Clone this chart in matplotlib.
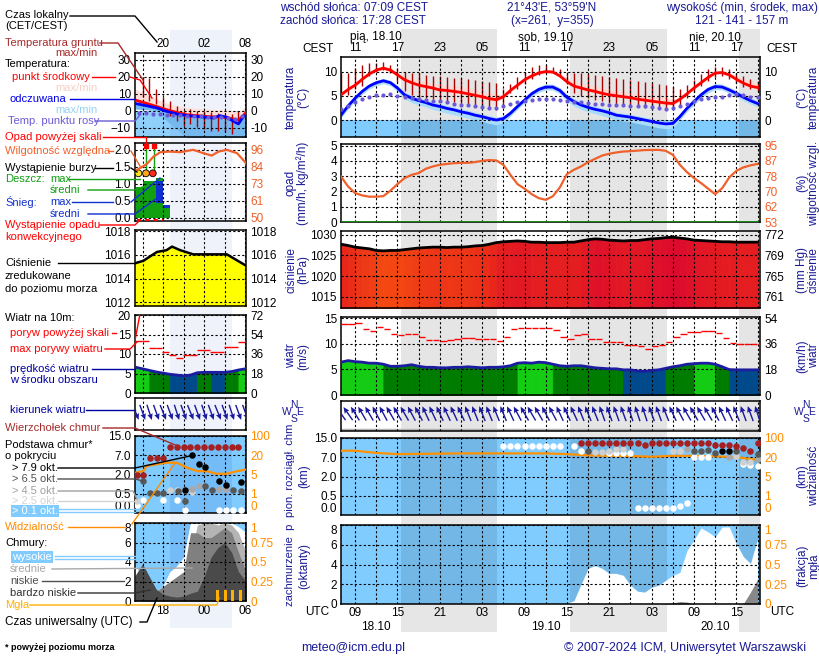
import numpy as np
import matplotlib
matplotlib.use('Agg')
import matplotlib.pyplot as plt
from matplotlib.colors import LinearSegmentedColormap, Normalize

plt.rcParams['font.family'] = ['Liberation Sans', 'DejaVu Sans']
plt.rcParams['font.size'] = 8.5

# ---------------- main meteogram, hours counted from 18.10 00 UTC ----------------
hours = np.arange(7, 67)
night_spans = [(15.47, 29.15), (39.45, 53.17), (63.43, 66.4)]
utc_major = np.arange(9, 66, 6)
utc_minor = np.arange(12, 67, 6)
date_hours = [12, 36, 60]
date_top = ['pią, 18.10', 'sob, 19.10', 'nie, 20.10']
date_bottom = ['18.10', '19.10', '20.10']

temp = [5.2, 6.3, 7.2, 8.4, 9.5, 10.3, 10.7, 10.3, 9.3, 8.3,
        7.7, 7.2, 6.9, 6.6, 6.2, 6.1, 5.9, 5.7, 5.4, 5.1,
        4.8, 4.4, 4.2, 4.8, 6.1, 7.2, 8.3, 9.1, 9.7, 10.0,
        9.9, 9.1, 7.9, 7.0, 6.6, 6.2, 5.9, 5.5, 5.2, 5.0,
        4.8, 4.6, 4.3, 4.1, 3.9, 3.7, 3.5, 3.4, 4.3, 5.4,
        6.6, 7.7, 8.8, 9.7, 9.8, 9.3, 8.4, 7.6, 7.0, 6.7]
temp_max = [5.5, 6.6, 7.5, 8.7, 9.8, 10.6, 11.0, 10.7, 9.8,
            9.0, 8.6, 8.2, 8.0, 7.7, 7.4, 7.2, 7.0, 6.9, 6.6, 6.3, 6.0, 5.6, 5.3,
            5.2, 6.4, 7.5, 8.6, 9.4, 10.0, 10.3, 10.3, 9.6,
            8.7, 8.0, 7.6, 7.3, 7.0, 6.6, 6.3, 6.1, 5.9, 5.6, 5.3, 5.1, 4.9, 4.7, 4.5, 4.3,
            4.7, 5.7, 6.9, 8.0, 9.1, 10.0, 10.1, 9.8, 9.1, 8.5, 8.0, 7.7]
temp_min = [4.9, 6.0, 6.9, 8.1, 9.2, 10.0, 10.4, 10.0, 9.0,
            8.0, 7.4, 6.9, 6.6, 6.3, 5.9, 5.8, 5.6, 5.4, 5.1, 4.8, 4.5, 4.0, 3.8,
            4.4, 5.8, 6.9, 8.0, 8.8, 9.4, 9.7, 9.6, 8.8,
            7.6, 6.7, 6.3, 5.9, 5.6, 5.2, 4.9, 4.7, 4.5, 4.3, 4.0, 3.8, 3.6, 3.4, 3.1, 3.0,
            3.9, 5.1, 6.3, 7.4, 8.5, 9.4, 9.5, 9.0, 8.1, 7.3, 6.7, 6.4]
feel = [1.0, 2.9, 4.5, 5.9, 7.0, 7.7, 8.1, 7.7, 6.6,
        5.2, 4.5, 4.0, 3.6, 3.1, 2.8, 2.4, 2.1, 1.7, 1.4, 1.0, 0.7, 0.3, 0.0,
        0.3, 1.4, 2.8, 4.1, 5.4, 6.3, 6.8, 6.8, 6.1,
        4.7, 3.8, 3.1, 2.6, 2.2, 1.9, 1.5, 1.0, 0.8, 0.6, 0.3, 0.0, -0.3, -0.6, -0.8, -0.7,
        0.7, 2.4, 3.8, 5.2, 6.3, 6.9, 6.8, 6.2, 5.5, 4.7, 4.0, 3.4]
feel_max = [1.5, 3.4, 5.0, 6.4, 7.5, 8.2, 8.6, 8.2, 7.1,
            5.8, 5.1, 4.6, 4.2, 3.7, 3.4, 3.0, 2.7, 2.3, 2.0, 1.6, 1.3, 0.9, 0.6,
            0.9, 2.0, 3.4, 4.7, 6.0, 6.9, 7.4, 7.4, 6.7,
            5.3, 4.4, 3.7, 3.2, 2.8, 2.5, 2.1, 1.6, 1.4, 1.2, 0.9, 0.6, 0.3, 0.0, -0.2, -0.1,
            1.3, 3.0, 4.4, 5.8, 6.9, 7.5, 7.4, 6.8, 6.1, 5.3, 4.6, 4.0]
feel_min = [0.4, 2.3, 3.9, 5.3, 6.4, 7.1, 7.5, 7.1, 5.9,
            4.4, 3.6, 3.1, 2.7, 2.2, 1.8, 1.4, 1.1, 0.7, 0.4, 0.0, -0.3, -0.7, -1.0,
            -0.5, 0.8, 2.2, 3.5, 4.8, 5.7, 6.2, 6.2, 5.4,
            3.9, 2.9, 2.2, 1.7, 1.3, 0.9, 0.5, 0.0, -0.2, -0.4, -0.7, -1.0, -1.3, -1.6, -1.8, -1.7,
            0.0, 1.7, 3.1, 4.5, 5.6, 6.3, 6.2, 5.5, 4.8, 4.0, 3.3, 2.7]
dew = [2.2, 2.8, 3.8, 4.3, 4.8, 5.1, 5.2, 5.4, 5.0, 4.7,
       4.5, 4.3, 4.1, 4.0, 3.9, 3.7, 3.4, 3.2, 3.0, 2.8,
       2.6, 2.4, 2.4, 2.9, 3.4, 3.8, 4.0, 4.1, 4.3, 4.3,
       4.3, 4.1, 4.0, 3.8, 3.7, 3.5, 3.4, 3.3, 3.2, 3.1,
       3.0, 2.9, 2.8, 2.8, 2.6, 2.5, 2.3, 2.4, 2.9, 3.4,
       3.9, 4.3, 4.5, 4.7, 4.8, 5.2, 5.3, 5.2, 4.8, 4.7]
ground_max = [9.7, 9.7, 10.7, 11.4, 11.7, 11.7, 11.9, 11.4, 10.7, 10.0,
              9.8, 9.7, 9.3, 9.0, 9.0, 8.8, 8.6, 8.6, 8.4, 8.3,
              8.1, 7.9, 7.7, 6.5, 7.5, 8.8, 10.0, 11.0, 11.3, 11.3,
              11.0, 10.6, 10.0, 9.8, 9.6, 9.4, 9.2, 9.0, 8.8, 8.6,
              8.4, 8.2, 8.0, 7.8, 7.6, 7.5, 7.3, 6.8, 6.5, 7.2,
              8.2, 9.5, 10.6, 11.0, 11.0, 10.5, 9.8, 9.0, 8.5, 8.0]
ground_min = [5.2, 5.2, 6.3, 7.0, 9.0, 10.0, 10.3, 9.7, 7.9, 5.9,
              5.2, 4.8, 4.5, 4.3, 4.1, 3.8, 3.8, 3.4, 3.3, 2.9,
              2.6, 2.2, 2.1, 3.0, 5.5, 6.5, 7.5, 8.5, 9.3, 9.7,
              9.6, 8.8, 7.5, 5.5, 5.0, 4.6, 4.2, 3.9, 3.6, 3.3,
              3.1, 2.9, 2.7, 2.5, 2.4, 2.3, 2.2, 2.2, 3.0, 4.5,
              5.8, 7.0, 8.0, 8.8, 9.0, 8.5, 7.6, 6.8, 6.3, 6.0]

rain = [0.0] * 60  # no precipitation in the forecast
humidity = [78.0, 72.5, 68.9, 67.6, 66.9, 66.9, 67.2, 70.2, 73.8, 77.1,
            78.9, 79.9, 82.2, 83.5, 84.4, 84.9, 85.3, 85.5, 85.5, 85.9,
            86.6, 87.0, 86.8, 84.4, 78.9, 73.8, 71.3, 68.3, 66.1, 65.2,
            67.1, 72.0, 79.3, 81.7, 83.5, 85.9, 87.7, 89.5, 90.5, 91.2,
            91.7, 91.9, 92.2, 92.5, 92.6, 92.6, 92.1, 89.9, 84.4, 80.4,
            77.1, 74.4, 71.3, 68.3, 71.6, 77.5, 81.1, 83.0, 84.1, 84.9]
pressure = [1027.7, 1027.4, 1027.0, 1026.8, 1026.6, 1026.2, 1026.1, 1026.2, 1026.2, 1026.4,
            1026.6, 1026.8, 1026.9, 1027.0, 1027.0, 1026.9, 1027.0, 1027.0, 1027.1, 1027.3,
            1027.4, 1027.7, 1028.1, 1028.3, 1028.4, 1028.5, 1028.4, 1028.2, 1028.2, 1028.1,
            1028.1, 1028.1, 1028.2, 1028.2, 1028.5, 1028.8, 1029.0, 1028.9, 1028.7, 1028.6,
            1028.5, 1028.6, 1028.6, 1028.8, 1029.0, 1029.1, 1029.3, 1029.4, 1029.2, 1029.0,
            1028.7, 1028.6, 1028.5, 1028.4, 1028.3, 1028.3, 1028.2, 1028.2, 1028.2, 1028.2]
wind = [6.4, 6.7, 6.5, 6.4, 6.2, 6.2, 6.0, 5.6, 5.6, 5.7,
        5.9, 5.6, 5.4, 5.4, 5.3, 5.3, 5.4, 5.4, 5.5, 5.4,
        5.3, 5.4, 5.4, 5.5, 5.7, 6.2, 6.3, 6.2, 6.4, 6.3,
        6.0, 5.7, 5.6, 5.7, 5.7, 5.5, 5.3, 5.2, 5.1, 5.1,
        4.9, 4.9, 4.7, 4.6, 4.8, 4.9, 5.2, 5.5, 5.7, 6.0,
        6.1, 6.2, 6.2, 6.0, 5.5, 4.95, 4.9, 4.9, 4.9, 4.9]
gust = [13.9, 13.9, 14.0, 12.9, 12.5, 13.2, 12.9, 11.8, 11.6, 11.9,
        11.9, 11.3, 10.8, 10.8, 10.6, 10.8, 10.9, 11.1, 11.1, 11.0,
        11.0, 11.0, 10.6, 11.3, 12.9, 13.1, 13.1, 13.1, 13.1, 13.1,
        12.7, 11.3, 10.9, 11.6, 11.8, 10.9, 10.9, 10.3, 10.3, 10.3,
        9.8, 9.8, 9.5, 9.0, 9.6, 9.8, 10.3, 11.3, 11.8, 12.3,
        12.3, 12.5, 12.5, 12.1, 11.1, 10.1, 9.9, 9.9, 9.9, 9.9]
wind_dir = [145, 145, 148, 150, 150, 152, 152, 150, 150, 150,
            152, 152, 155, 155, 155, 155, 155, 155, 158, 158,
            158, 158, 158, 158, 155, 152, 150, 150, 150, 152,
            152, 155, 155, 155, 158, 158, 158, 160, 160, 160,
            160, 162, 162, 162, 160, 160, 158, 155, 152, 150,
            150, 150, 150, 152, 155, 155, 158, 160, 160, 162]

vis_t = [7, 9, 12, 15, 18, 21, 24, 27, 30, 33, 36, 39, 42, 45, 48, 51, 54, 57, 60, 63, 66]
visibility = [47, 47, 38, 33, 34, 35, 36, 36, 36, 36, 36, 33, 28, 26, 25, 22, 26, 26, 24, 20, 18]
ctop_t = [41, 42, 43, 44, 45, 46, 47, 48, 49, 50, 51, 52, 53, 54, 55, 56, 57, 58, 59, 60, 61, 62, 63, 64, 65, 66]
ctop_v = [12.9, 12.9, 12.9, 12.9, 12.9, 12.9, 12.9, 12.9, 12.9, 11.9, 12.9, 12.9, 12.9,
          12.9, 12.9, 12.9, 12.9, 12.9, 12.9, 11.9, 12.2, 11.9, 11.5, 10.8, 9.7, 12.9]
base01_t = [30, 31, 32, 33, 34, 35, 36, 37, 38, 40, 41, 45, 46, 47, 48,
            49, 50, 51, 52, 53, 54, 55, 56, 57, 58, 59, 64, 65, 66]
base01_v = [11.8, 11.8, 11.8, 11.8, 11.8, 11.8, 11.8, 11.8, 11.8, 11.8, 9.7, 8.7, 8.7, 8.7, 8.7,
            0.19, 0.19, 0.19, 0.19, 0.19, 0.19, 0.24, 0.30, 7.0, 7.0, 7.0, 5.3, 4.9, 4.6]
base25_t = [43, 44, 45, 46, 47, 54, 55, 63, 64, 65]
base25_v = [9.2, 9.2, 9.7, 10.5, 10.5, 9.7, 9.7, 7.5, 5.8, 5.8]
base45_t = [56, 62, 66]
base45_v = [10.5, 7.3, 6.5]
base65_t = [42, 57, 58, 59, 60, 63, 66]
base65_v = [9.7, 9.7, 9.7, 10.1, 8.7, 9.7, 8.5]
base79_t = [61, 62]
base79_v = [9.7, 9.4]

clear_t = [7, 30, 38, 39, 40, 41, 42, 43, 44, 45, 46, 47, 48, 49, 50, 51, 52, 53,
           54, 55, 56, 57, 58, 59, 60, 61, 62, 63, 64, 65, 66]
clear_sky = [0.0, 0.05, 0.05, 0.07, 0.34, 2.0, 3.6, 3.9, 3.6, 3.1, 3.1, 2.9, 1.9, 1.3, 1.2, 1.7,
             1.9, 2.4, 2.9, 3.2, 5.4, 6.5, 7.7, 7.3, 6.8, 7.8, 7.8, 6.1, 4.8, 4.1, 6.6]
low_t = [52, 54, 55, 56, 57, 63, 64, 65, 66]
low_cloud = [0.0, 0.1, 0.25, 0.2, 0.0, 0.0, 0.05, 1.2, 2.5]

# ---------------- legend mini-meteogram, hours from 18.10 00 UTC ----------------
l_night = [(19.0, 28.1)]
l_major = [18, 24, 30]
l_minor = [15, 21, 27]
l_local = ['20', '02', '08']
l_utc = ['18', '00', '06']

lt_h = [13.9, 15.6, 17.1, 18.5, 20.0, 21.5, 24.4, 25.4, 26.3, 27.3, 28.3, 29.0, 29.8, 30.1]
l_temp = [6.3, 4.3, 2.4, 0.6, -1.0, -2.4, -3.4, -3.6, -3.8, -4.0, -4.9, -5.5, -2.5, -1.0]
l_temp_max = [12.8, 9.5, 6.9, 4.5, 2.9, 1.8, 1.0, 0.8, 0.6, 0.4, 0.0, -0.5, 1.5, 1.9]
l_temp_min = [5.5, 3.5, 1.6, -0.2, -1.8, -3.2, -4.2, -4.4, -4.6, -4.8, -5.7, -6.3, -3.3, -1.8]
l_feel = [4.3, 2.9, 1.6, -0.4, -1.9, -2.9, -3.9, -4.3, -2.9, -3.9, -6.3, -7.8, -2.9, -3.5]
l_feel_max = [5.0, 3.8, 2.5, 0.5, -1.0, -2.0, -3.0, -3.4, -2.0, -3.0, -5.0, -6.5, -2.0, -2.5]
l_feel_min = [1.0, 0.5, 0.0, -5.9, -11.0, -16.0, -16.0, -16.0, -16.0, -16.0, -16.0, -16.0, -16.0, -16.0]
ld_h = [14.5, 15.5, 16.5, 17.5, 18.5, 19.5, 20.5, 21.5, 22.5, 23.5, 24.5, 25.5, 26.5, 27.5, 28.5, 29.5]
l_dew = [-1.5, -1.5, -2.0, -2.0, -2.4, -2.4, -2.7, -2.9, -3.0, -3.2, -3.5, -3.5, -3.8, -4.5, -5.0, -3.0]
lg_h = [15, 16, 17, 18, 19, 20, 21, 22, 23, 24, 25, 26, 27, 28, 29]
lg_max = [19.6, 19.2, 12.7, 7.8, 5.9, 2.9, 0.0, 1.0, 0.0, 0.0, -1.0, -1.6, -2.0, -2.0, 0.0]
lg_min = [7.8, 5.9, 3.9, 0.0, -2.9, -5.9, -8.8, -7.8, -9.8, -10.8, -11.8, -11.8, -12.7, -13.7, -5.9]

lh_h = [13.9, 14.6, 15.6, 16.6, 17.6, 19.0, 20.5, 22.4, 23.9, 25.1, 26.1, 27.3, 28.8, 30.1]
l_hum = [81.8, 83.6, 86.3, 91.4, 94.4, 94.8, 94.4, 96.0, 93.7, 92.1, 94.8, 96.0, 93.7, 87.0]
lr_h = [14, 15, 16, 17, 18, 19]
l_rain_max = [0.92, 1.07, 1.07, 1.17, 0.38, 0.01]
ls_h = [17, 18]
l_snow_max = [1.07, 0.38]
l_rain_mean = [0.43, 0.30]
l_storm_h = [14.4, 15.5, 16.5]
l_storm_c = ['#ffe41c', '#ffa41c', '#ff2a1c']
l_over_h = [15.5, 16.6]

lp_h = [13.9, 15.1, 17.1, 18.5, 19.3, 20.5, 22.4, 27.3, 30.1]
l_press = [1015.3, 1015.5, 1016.25, 1016.4, 1016.7, 1016.4, 1016.05, 1016.05, 1015.1]

lw_h = np.arange(13, 31)
l_wind = [6.9, 6.6, 6.2, 5.8, 5.4, 5.1, 4.8, 4.6, 4.4, 4.6, 5.2, 5.3, 5.3, 5.3, 5.3, 5.5, 5.9, 6.2]
l_wind_class = [2, 2, 2, 1, 1, 1, 0, 0, 0, 0, 1, 1, 0, 0, 1, 1, 2, 2]
lgu_h = [14, 15, 16, 17, 18, 19, 20, 21, 22, 23, 24, 25, 26, 27, 28, 29]
l_gust = [13.4, 13.4, 11.5, 11.5, 10.5, 9.7, 9.0, 9.7, 9.7, 10.9, 10.9, 10.6, 10.6, 11.9, 11.9, 13.2]
l_wind_dir = [340, 338, 340, 342, 340, 338, 340, 342, 340, 338, 340, 342, 340, 338, 340, 342, 340, 340]

lv_h = [13.9, 15.1, 15.6, 17.1, 18.5, 20.0, 21.5, 23.0, 24.4, 25.8, 27.3, 28.8, 30.1]
l_vis = [6.3, 7.6, 11.6, 13.0, 14.2, 14.2, 10.3, 7.6, 7.6, 5.6, 5.6, 7.6, 8.9]
lct_h = [14.2, 15.1, 16.1, 17.1, 18.0, 19, 20, 21, 22, 23, 24, 25, 26, 27, 28, 29]
l_ctop = [2.0, 2.0, 6.4, 6.4, 6.4, 10.4, 10.4, 10.4, 10.4, 10.4, 10.4, 10.4, 10.4, 10.4, 10.4, 10.4]
lb79_h = [22.2, 23.2, 24.1, 26.1, 27.2, 29.3, 21.2]
lb79_v = [7.0, 4.8, 3.9, 1.5, 1.2, 1.4, 0.8]
lb65_h = [15.1, 16.1, 17.1, 18.0, 20.2, 21.2, 24.1, 25.1, 28.2, 29.3]
lb65_v = [1.5, 0.55, 0.55, 0.55, 0.7, 0.3, 1.1, 0.8, 0.8, 0.7]
lb45_h = [23.2, 22.2, 26.1, 27.2]
lb45_v = [1.1, 0.9, 0.9, 0.9]
lb25_h = [19.0, 20.0, 21.2, 14.2, 22.2]
lb25_v = [0.8, 0.8, 0.8, 0.3, 0.6]
lb01_h = [14.2, 15.1, 18.0, 20.0, 21.2, 26.1, 27.2, 28.2, 29.3]
lb01_v = [0.21, 0.35, 0.35, 0.35, 0.08, 0.08, 0.08, 0.08, 0.08]

lc_h = [13.9, 15, 16, 17, 18, 19, 20, 21, 22, 23, 24, 25, 26, 27, 28, 29, 30.1]
l_high_base = [3.6, 2.5, 1.5, 1.0, 1.5, 3.0, 3.6, 4.5, 8, 8, 8, 8, 8, 8, 8, 7.6, 7.0]
l_med = [0, 0, 0, 0, 0, 0, 0, 0, 4.5, 7.8, 8.0, 8.0, 7.8, 8.0, 7.8, 7.0, 5.0]
l_low = [0, 0, 0.5, 1.0, 1.5, 2.0, 2.5, 3.0, 7.0, 7.0, 6.5, 6.5, 7.0, 7.5, 7.0, 5.0, 3.0]
l_vlow = [2.6, 3.8, 2.5, 1.2, 0.7, 0.5, 0.4, 0.5, 0.8, 1.0, 2.5, 4.5, 5.5, 6.0, 5.0, 3.0, 2.0]
lf_h = [25.9, 27.1, 28.1, 29.3]
l_fog = [0.14, 0.14, 0.14, 0.14]

# ---------------- styling ----------------
NAVY = '#1a1a96'
SKY = '#80ccff'
ORANGE = '#ff8c00'
HUMC = '#f0602a'
DARKRED = '#a52a2a'
XM = (7, 66.35)
XL = (13.9, 30.1)
CB_KM = [0, 0.5, 2, 7, 15]
VIS_KM = [0, 1, 5, 20, 100]


def cb(v):
    return np.interp(v, CB_KM, [0, 1, 2, 3, 4])


def vpos(v):
    return np.interp(v, VIS_KM, [0, 1, 2, 3, 4])


fig = plt.figure(figsize=(8.2, 6.6), dpi=100)


def add(x0, y0, x1, y1, **kw):
    return fig.add_axes([x0 / 820, 1 - y1 / 660, (x1 - x0) / 820, (y1 - y0) / 660], **kw)


def style(ax, xlim, major, minor, ygrid=True):
    ax.set_xlim(*xlim)
    ax.set_xticks(major)
    ax.set_xticks(minor, minor=True)
    ax.set_xticklabels([])
    ax.tick_params(which='both', length=0, labelsize=8.5, pad=3)
    for s in ax.spines.values():
        s.set_linewidth(1.1)
    ax.grid(True, which='both', axis='x', color='black', ls=(0, (2, 2)), lw=0.8)
    if ygrid:
        ax.grid(True, which='major', axis='y', color='black', ls=(0, (2, 2)), lw=0.8)
    ax.set_axisbelow(False)


def shade(ax, spans, color='black', alpha=0.1, z=0.8):
    for a, b in spans:
        ax.axvspan(a, b, color=color, alpha=alpha, lw=0, zorder=z)


def right_axis(ax, ylim, ticks, labels, color='black'):
    tw = ax.twinx()
    tw.set_ylim(*ylim)
    tw.set_yticks(ticks)
    tw.set_yticklabels(labels, color=color)
    tw.tick_params(length=0, pad=3, labelsize=8.5)
    for s in tw.spines.values():
        s.set_visible(False)
    return tw


def lshade(ax):
    shade(ax, l_night, '#1e50c8', 0.07)


# night backgrounds behind the panels
bgm = add(341, 29, 760, 632, zorder=-5)
bgm.set_xlim(*XM)
bgm.axis('off')
for a, b in night_spans:
    bgm.axvspan(a, b, color='#e6e6e6', lw=0)
bgl = add(135, 30, 246, 628, zorder=-5)
bgl.set_xlim(*XL)
bgl.axis('off')
for a, b in l_night:
    bgl.axvspan(a, b, color='#eef3fb', lw=0)

# ---------------- main panels ----------------
# temperature
axT = add(341, 57, 760, 137)
style(axT, XM, utc_major, utc_minor)
axT.set_ylim(-3.5, 13)
axT.set_yticks([0, 5, 10])
axT.axhspan(-3.5, 0, color=SKY, lw=0, zorder=0.5)
shade(axT, night_spans)
axT.fill_between(hours, temp_min, temp_max, color='#fdd8d2', lw=0, zorder=1)
axT.fill_between(hours, feel_min, feel_max, color='#a8dcfa', lw=0, zorder=1)
axT.vlines(hours, ground_min, ground_max, color='#b00000', lw=1, zorder=1.5)
axT.plot(hours, temp, color='#ff0000', lw=2, zorder=3)
axT.plot(hours, feel, color='#0000ff', lw=2, zorder=3)
axT.scatter(hours, dew, s=9, color='#6a5ad8', lw=0, zorder=3)
axT.set_xticklabels(['%02d' % ((h + 2) % 24) for h in utc_major])
axT.tick_params(axis='x', labeltop=True, labelbottom=False, pad=2)
right_axis(axT, (-3.5, 13), [0, 5, 10], ['0', '5', '10'])
for h, s in zip(date_hours, date_top):
    axT.text(h, 1.25, s, transform=axT.get_xaxis_transform(), ha='center', va='center')

# precipitation / humidity
axR = add(341, 144, 760, 222)
style(axR, XM, utc_major, utc_minor)
axR.set_ylim(0, 5.1)
axR.set_yticks([0, 1, 2, 3, 4, 5])
shade(axR, night_spans)
axR.plot(hours, rain, color='#10a010', lw=1.2, zorder=3)
twR = right_axis(axR, (53, 53 + 8.4 * 5.1), [53 + 8.4 * k for k in range(6)],
                 ['53', '62', '70', '78', '87', '95'], HUMC)
twR.plot(hours, humidity, color=HUMC, lw=1.6, zorder=3)

# pressure
axP = add(341, 231, 760, 308)
style(axP, XM, utc_major, utc_minor)
axP.set_ylim(1012.3, 1030.9)
axP.set_yticks([1015, 1020, 1025, 1030])
shade(axP, night_spans)
pcmap = LinearSegmentedColormap.from_list('pr', ['#f44a12', '#e8261a', '#dc0a2e'])
pnorm = Normalize(1026.0, 1029.4)
for i in range(len(hours) - 1):
    c = pcmap(pnorm(pressure[i]))
    axP.fill_between(hours[i:i + 2], 1012.3, pressure[i:i + 2], color=c, lw=0.6, zorder=1)
axP.plot(hours, pressure, color='black', lw=2, zorder=3)
right_axis(axP, (1012.3, 1030.9), [1015, 1020, 1025, 1030], ['761', '765', '769', '772'])

# wind
WIND_COLORS = ['#004a8c', '#007c00', '#14cc14']
axW = add(341, 317, 760, 395)
style(axW, XM, utc_major, utc_minor)
axW.set_ylim(0, 15.2)
axW.set_yticks([0, 5, 10, 15])
shade(axW, night_spans)
for i in range(len(hours) - 1):
    k = 2 if wind[i] >= 6.1 else (1 if wind[i] >= 5.0 else 0)
    axW.fill_between(hours[i:i + 2], 0, wind[i:i + 2], color=WIND_COLORS[k], lw=0.6, zorder=1)
axW.plot(hours, wind, color='#1c1ca0', lw=2, zorder=3)
axW.hlines(gust, hours + 0.05, hours + 0.95, color='#ff0000', lw=1, zorder=3)
right_axis(axW, (0, 15.2), [0, 5, 10, 15], ['0', '18', '36', '54'])

# wind direction
axD = add(341, 401, 760, 431)
style(axD, XM, utc_major, utc_minor, ygrid=False)
axD.set_ylim(0, 1)
axD.set_yticks([])
shade(axD, night_spans)
axD.axhline(0.04, color='#b4b4b4', lw=2.5, zorder=1)
d = np.radians(wind_dir)
axD.quiver(hours, np.full(len(hours), 0.58), -np.sin(d), -np.cos(d), angles='uv',
           scale_units='dots', scale=1 / 16, pivot='middle', units='dots', width=1.4,
           headwidth=4, headlength=4.5, headaxislength=4, color='#1a1aa0', zorder=3)

# cloud base / visibility
axB = add(341, 438, 760, 515)
style(axB, XM, utc_major, utc_minor)
axB.set_ylim(0, 4)
axB.set_yticks(cb(CB_KM))
axB.set_yticklabels(['0.0', '0.5', '2.0', '7.0', '15.0'])
axB.get_yticklabels()[0].set_va('bottom')
axB.axhspan(0, 4, color=SKY, lw=0, zorder=0.5)
shade(axB, night_spans)
axB.plot(vis_t, vpos(visibility), color='#ff9000', lw=1.6, zorder=3)
for tt, vv, col in [(base01_t, base01_v, 'white'), (base25_t, base25_v, '#d0d0d0'),
                    (base45_t, base45_v, '#a8a8a8'), (base65_t, base65_v, '#585858'),
                    (base79_t, base79_v, 'black'), (ctop_t, ctop_v, '#a52020')]:
    axB.scatter(tt, cb(vv), s=22, color=col, lw=0, zorder=4)
twB = right_axis(axB, (0, 4), [0, 1, 2, 3, 4], ['0', '1', '5', '20', '100'], ORANGE)
twB.get_yticklabels()[0].set_va('bottom')

# cloud cover
axC = add(341, 525, 760, 604)
style(axC, XM, utc_major, utc_minor)
axC.set_ylim(0, 8)
axC.set_yticks([0, 2, 4, 6, 8])
axC.get_yticklabels()[-1].set_va('top')
axC.axhspan(0, 8, color=SKY, lw=0, zorder=0.5)
shade(axC, night_spans)
axC.fill_between(clear_t, 0, clear_sky, color='white', lw=0, zorder=1)
axC.fill_between(low_t, 0, low_cloud, color='#888888', lw=0, zorder=1.1)
axC.set_xticklabels(['%02d' % (h % 24) for h in utc_major])
axC.tick_params(axis='x', labelbottom=True, pad=2)
twC = right_axis(axC, (0, 1), [0, 0.25, 0.5, 0.75, 1], ['0', '0.25', '0.5', '0.75', '1'], ORANGE)
twC.get_yticklabels()[-1].set_va('top')
for h, s in zip(date_hours, date_bottom):
    axC.text(h, -0.29, s, transform=axC.get_xaxis_transform(), ha='center', va='center')

# ---------------- legend panels ----------------
# temperature
lT = add(135, 53, 246, 137)
style(lT, XL, l_major, l_minor)
lT.set_ylim(-15.5, 34)
lT.set_yticks([-10, 0, 10, 20, 30])
lT.axhspan(-15.5, 0, color='#8fd0fa', lw=0, zorder=0.5)
lshade(lT)
lT.fill_between(lt_h, l_feel_min, l_feel_max, color='#74b8ee', lw=0, zorder=0.9)
lT.fill_between(lt_h, l_temp_min, l_temp_max, color='#fde0d8', lw=0, zorder=1)
lT.vlines(lg_h, lg_min, lg_max, color='#b00000', lw=1, zorder=1.5)
lT.plot(lt_h, l_temp, color='#ff0000', lw=2, zorder=3)
lT.plot(lt_h, l_feel, color='#0000ff', lw=2, zorder=3)
lT.scatter(ld_h, l_dew, s=9, color='#6a5ad8', lw=0, zorder=3)
lT.set_xticklabels(l_local)
lT.tick_params(axis='x', labeltop=True, labelbottom=False, pad=2)
right_axis(lT, (-15.5, 34), [-10, 0, 10, 20, 30], ['-10', '0', '10', '20', '30'])

# precipitation
lR = add(135, 143, 246, 221)
style(lR, XL, l_major, l_minor)
lR.set_ylim(-0.09, 2.2)
lR.set_yticks([0, 0.5, 1.0, 1.5, 2.0])
lR.set_yticklabels(['0.0', '0.5', '1.0', '1.5', '2.0'])
lshade(lR)
lR.bar(lr_h, l_rain_max, width=1, align='edge', color='#10a010', zorder=1)
lR.bar(ls_h, l_snow_max, width=1, align='edge', color='#1030d0', zorder=1.1)
lR.bar(ls_h, l_rain_mean, width=1, align='edge', color='#10a010', zorder=1.2)
lR.vlines(l_over_h, 1.31, 2.1, color='#10a010', lw=1, zorder=3)
lR.scatter(l_over_h, [2.1, 2.1], marker='s', s=12, color='#ff0000', zorder=4)
lR.scatter(l_storm_h, [1.31, 1.31, 1.31], s=24, color=l_storm_c, edgecolor='black', lw=0.6, zorder=4)
lR.hlines(-0.05, 14.2, 18.0, color='#ff0000', lw=1.5, ls=(0, (2, 2)), zorder=4)
twl = right_axis(lR, (50 - 23 * 0.09, 50 + 23 * 2.2), [50, 61.5, 73, 84.5, 96],
                 ['50', '61', '73', '84', '96'], HUMC)
twl.plot(lh_h, l_hum, color=HUMC, lw=1.6, zorder=3)

# pressure
lP = add(135, 230, 246, 306)
style(lP, XL, l_major, l_minor)
lP.set_ylim(1011.7, 1018.1)
lP.set_yticks([1012, 1014, 1016, 1018])
lshade(lP)
lP.fill_between(lp_h, 1011.7, l_press, color='#ffff00', lw=0, zorder=1)
lP.plot(lp_h, l_press, color='black', lw=1.8, zorder=3)
right_axis(lP, (1011.7, 1018.1), [1012, 1014, 1016, 1018], ['1012', '1014', '1016', '1018'])

# wind
lW = add(135, 315, 246, 393)
style(lW, XL, l_major, l_minor)
lW.set_ylim(0, 20)
lW.set_yticks([0, 5, 10, 15, 20])
lshade(lW)
for i in range(len(lw_h) - 1):
    lW.fill_between(lw_h[i:i + 2], 0, l_wind[i:i + 2], color=WIND_COLORS[l_wind_class[i]],
                    lw=0.6, zorder=1)
lW.plot(lw_h, l_wind, color='#1c1ca0', lw=2, zorder=3)
lW.hlines(l_gust, np.array(lgu_h) - 0.1, np.array(lgu_h) + 0.9, color='#ff0000', lw=1, zorder=3)
lW.plot([13.9, 14.6], [13.5, 20], color='#ff0000', lw=1, zorder=3)
right_axis(lW, (0, 20), [0, 5, 10, 15, 20], ['0', '18', '36', '54', '72'])

# wind direction
lD = add(135, 398, 246, 430)
style(lD, XL, l_major, l_minor, ygrid=False)
lD.set_ylim(0, 1)
lD.set_yticks([])
lshade(lD)
ld = np.radians(l_wind_dir)
lD.quiver(lw_h, np.full(len(lw_h), 0.55), -np.sin(ld), -np.cos(ld), angles='uv',
          scale_units='dots', scale=1 / 16, pivot='middle', units='dots', width=1.4,
          headwidth=4, headlength=4.5, headaxislength=4, color='#1a1aa0', zorder=3)

# cloud base
lB = add(135, 436, 246, 513)
style(lB, XL, l_major, l_minor)
lB.set_ylim(0, 4)
lB.set_yticks(cb(CB_KM))
lB.set_yticklabels(['0.0', '0.5', '2.0', '7.0', '15.0'])
lB.get_yticklabels()[0].set_va('bottom')
lB.axhspan(0, 4, color=SKY, lw=0, zorder=0.5)
shade(lB, l_night, '#1e50c8', 0.12)
lB.plot(lv_h, vpos(l_vis), color='#ff9000', lw=1.6, zorder=3)
for tt, vv, col in [(lb01_h, lb01_v, 'white'), (lb25_h, lb25_v, '#d0d0d0'),
                    (lb45_h, lb45_v, '#a8a8a8'), (lb65_h, lb65_v, '#585858'),
                    (lb79_h, lb79_v, 'black'), (lct_h, l_ctop, '#a52020')]:
    lB.scatter(tt, cb(vv), s=22, color=col, lw=0, zorder=4)
twb = right_axis(lB, (0, 4), [0, 1, 2, 3, 4], ['0', '1', '5', '20', '100'], ORANGE)
twb.get_yticklabels()[0].set_va('bottom')

# cloud cover
lC = add(135, 523, 246, 601)
style(lC, XL, l_major, l_minor)
lC.set_ylim(0, 8)
lC.set_yticks([0, 2, 4, 6, 8])
lC.get_yticklabels()[-1].set_va('top')
lC.fill_between(lc_h, l_high_base, 8, color=SKY, lw=0, zorder=0.5)
shade(lC, l_night, '#1e50c8', 0.12)
lC.fill_between(lc_h, 0, l_high_base, color='white', lw=0, zorder=1)
lC.fill_between(lc_h, 0, l_med, color='#b4b4b4', lw=0, zorder=1.1)
lC.fill_between(lc_h, 0, l_low, color='#808080', lw=0, zorder=1.2)
lC.fill_between(lc_h, 0, l_vlow, color='#4a4a4a', lw=0, zorder=1.3)
lC.set_xticklabels(l_utc)
lC.tick_params(axis='x', labelbottom=True, pad=3)
twc = right_axis(lC, (0, 1), [0, 0.25, 0.5, 0.75, 1], ['0', '0.25', '0.5', '0.75', '1'], ORANGE)
twc.get_yticklabels()[-1].set_va('top')
twc.bar(lf_h, l_fog, width=0.4, color='#ffb000', zorder=3)

# ---------------- texts and leader lines (pixel coordinates) ----------------
ov = fig.add_axes([0, 0, 1, 1], zorder=20)
ov.set_xlim(0, 820)
ov.set_ylim(660, 0)
ov.axis('off')

ov.text(280, 8, 'wschód słońca: 07:09 CEST', color=NAVY, va='center')
ov.text(280, 21, 'zachód słońca: 17:28 CEST', color=NAVY, va='center')
ov.text(552, 8, "21°43'E, 53°59'N", color=NAVY, ha='center', va='center')
ov.text(552, 21, '(x=261,  y=355)', color=NAVY, ha='center', va='center')
ov.text(818, 8, 'wysokość (min, środek, max)', color=NAVY, ha='right', va='center')
ov.text(742, 21, '121 - 141 - 157 m', color=NAVY, ha='center', va='center')
ov.text(302, 49, 'CEST', va='center')
ov.text(766, 49, 'CEST', va='center')
ov.text(305, 612, 'UTC', va='center')
ov.text(770, 612, 'UTC', va='center')
ov.text(301, 648, 'meteo@icm.edu.pl', color=NAVY, va='center', fontsize=9)
ov.text(806, 648, '© 2007-2024 ICM, Uniwersytet Warszawski', color=NAVY, ha='right',
        va='center', fontsize=9)

side_labels = [
    (97, 'temperatura\n(°C)', '(°C)\ntemperatura'),
    (183, 'opad\n(mm/h, kg/m²/h)', '(%)\nwilgotność wzgl.'),
    (270, 'ciśnienie\n(hPa)', '(mm Hg)\nciśnienie'),
    (356, 'wiatr\n(m/s)', '(km/h)\nwiatr'),
    (476, None, '(km)\nwidzialność'),
    (566, None, '(frakcja)\nmgła'),
]
for y, lt, rt in side_labels:
    if lt:
        ov.text(297, y, lt, rotation=90, ha='center', va='center', color=NAVY, linespacing=0.95)
    ov.text(808, y, rt, rotation=90, ha='center', va='center', color=NAVY, linespacing=0.95)

# the long left labels of the two lowest panels run out of room at the top, as in the original
for y_bot, yc, long_txt, unit in [(517, 476, 'pion. rozciągł. chm', '(km)'),
                                  (606, 566, 'zachmurzenie  p', '(oktanty)')]:
    ov.text(290, y_bot, long_txt, rotation=90, ha='center', va='bottom', color=NAVY, fontsize=8)
    ov.text(304, yc, unit, rotation=90, ha='center', va='center', color=NAVY)

for cx in (294, 806):
    ov.text(cx, 405, 'N', ha='center', va='center', color=NAVY, fontsize=7.5)
    ov.text(cx - 7, 412, 'W', ha='center', va='center', color=NAVY, fontsize=7.5)
    ov.text(cx + 6, 412, 'E', ha='center', va='center', color=NAVY, fontsize=7.5)
    ov.text(cx, 419, 'S', ha='center', va='center', color=NAVY, fontsize=7.5)

GREEN = '#10a010'
SNOW = '#1030d0'
legend_texts = [
    (5, 15, 'Czas lokalny', 'black'), (5, 26, '(CET/CEST)', 'black'),
    (5, 43, 'Temperatura gruntu', DARKRED), (98, 53, 'max/min', DARKRED),
    (5, 64, 'Temperatura:', 'black'), (12, 77, 'punkt środkowy', '#ff0000'),
    (98, 88, 'max/min', '#f8d0c8'), (10, 99, 'odczuwana', '#0000e6'),
    (98, 110, 'max/min', '#96d2f4'), (8, 121, 'Temp. punktu rosy', '#6a5ad8'),
    (5, 137, 'Opad powyżej skali', '#ff0000'), (5, 151, 'Wilgotność względna', HUMC),
    (5, 168, 'Wystąpienie burzy', 'black'), (5, 179, 'Deszcz:', GREEN), (50, 179, 'max', GREEN),
    (50, 190, 'średni', GREEN), (5, 202, 'Śnieg:', SNOW), (50, 202, 'max', SNOW),
    (50, 214, 'średni', SNOW), (5, 225, 'Wystąpienie opadu', '#ff0000'),
    (5, 237, 'konwekcyjnego', '#ff0000'), (5, 263, 'Ciśnienie', 'black'),
    (5, 276, 'zredukowane', 'black'), (5, 289, 'do poziomu morza', 'black'),
    (5, 318, 'Wiatr na 10m:', 'black'), (10, 333, 'poryw powyżej skali', '#ff0000'),
    (10, 349, 'max porywy wiatru', '#ff0000'), (10, 369, 'prędkość wiatru', '#0000a0'),
    (10, 380, 'w środku obszaru', '#0000a0'), (10, 410, 'kierunek wiatru', '#0000a0'),
    (5, 428, 'Wierzchołek chmur', DARKRED), (5, 445, 'Podstawa chmur*', 'black'),
    (5, 456, 'o pokryciu', 'black'), (12, 468, '> 7.9 okt.', 'black'),
    (12, 479, '> 6.5 okt.', '#505050'), (12, 491, '> 4.5 okt.', '#a0a0a0'),
    (12, 501, '> 2.5 okt.', '#d4d4d4'), (5, 527, 'Widzialność', ORANGE),
    (5, 543, 'Chmury:', 'black'), (10, 569, 'średnie', '#a8a8a8'),
    (10, 581, 'niskie', '#505050'), (10, 593, 'bardzo niskie', '#303030'),
    (5, 605, 'Mgła', '#ffb000'),
]
for x, y, s, c in legend_texts:
    ha = 'right' if s == 'max/min' else 'left'
    ov.text(x, y, s, color=c, ha=ha, va='center', fontsize=8)
for y, s in [(511, '> 0.1 okt.'), (557, 'wysokie')]:
    ov.text(12, y, s, color='white', va='center', fontsize=8,
            bbox=dict(facecolor=SKY, edgecolor='none', pad=1))
ov.text(5, 622, 'Czas uniwersalny (UTC)', va='center', fontsize=8.5)
ov.text(5, 648, '* powyżej poziomu morza', va='center', fontsize=6.5, fontweight='bold')

leaders = [
    ('black', [(70, 16), (135, 16), (157, 42)]),
    (DARKRED, [(100, 43), (118, 43), (143, 80)]),
    ('#ff0000', [(92, 77), (115, 77)]), ('#ff0000', [(130, 77), (140, 80), (152, 98)]),
    ('#0000e6', [(70, 99), (135, 99)]),
    ('#6a5ad8', [(95, 121), (135, 121), (140, 115)]),
    ('#ff0000', [(103, 137), (146, 137), (146, 145)]),
    (HUMC, [(108, 151), (113, 151)]), (HUMC, [(131, 151), (140, 166)]),
    ('black', [(95, 168), (113, 168)]), ('black', [(131, 168), (137, 172)]),
    (GREEN, [(68, 179), (140, 179)]),
    (GREEN, [(88, 190), (135, 190), (155, 182)]),
    (SNOW, [(72, 202), (113, 202)]), (SNOW, [(131, 202), (160, 178)]),
    (SNOW, [(88, 214), (135, 214), (160, 196)]),
    ('#ff0000', [(100, 225), (135, 225), (140, 220)]),
    ('black', [(58, 263), (135, 263)]),
    ('#ff0000', [(112, 333), (116, 333)]),
    ('#0000a0', [(92, 369), (135, 369)]),
    ('#ff0000', [(105, 349), (130, 349), (137, 342)]),
    ('#0000a0', [(86, 410), (135, 410)]),
    (DARKRED, [(103, 428), (135, 428), (180, 447)]),
    ('black', [(58, 468), (135, 468), (190, 456)]),
    ('#505050', [(58, 479), (135, 479), (143, 481)]),
    ('#a0a0a0', [(58, 491), (133, 491), (137, 499)]),
    ('#d4d4d4', [(58, 501), (135, 501)]),
    (SKY, [(57, 509), (135, 509)]), (SKY, [(57, 512), (135, 512)]),
    (ORANGE, [(68, 527), (125, 527)]), (ORANGE, [(132, 524), (175, 463)]),
    (SKY, [(55, 556), (135, 556)]), (SKY, [(55, 559), (135, 559)]),
    ('#a8a8a8', [(52, 569), (192, 568)]),
    ('#505050', [(42, 581), (124, 581)]),
    ('#303030', [(78, 593), (135, 593), (150, 590)]),
    ('#ffb000', [(30, 605), (217, 605), (219, 598)]),
    ('black', [(140, 622), (147, 622), (157, 598)]),
]
for c, pts in leaders:
    xs, ys = zip(*pts)
    ov.plot(xs, ys, color=c, lw=1)

fig.savefig('out.png', dpi=100)
